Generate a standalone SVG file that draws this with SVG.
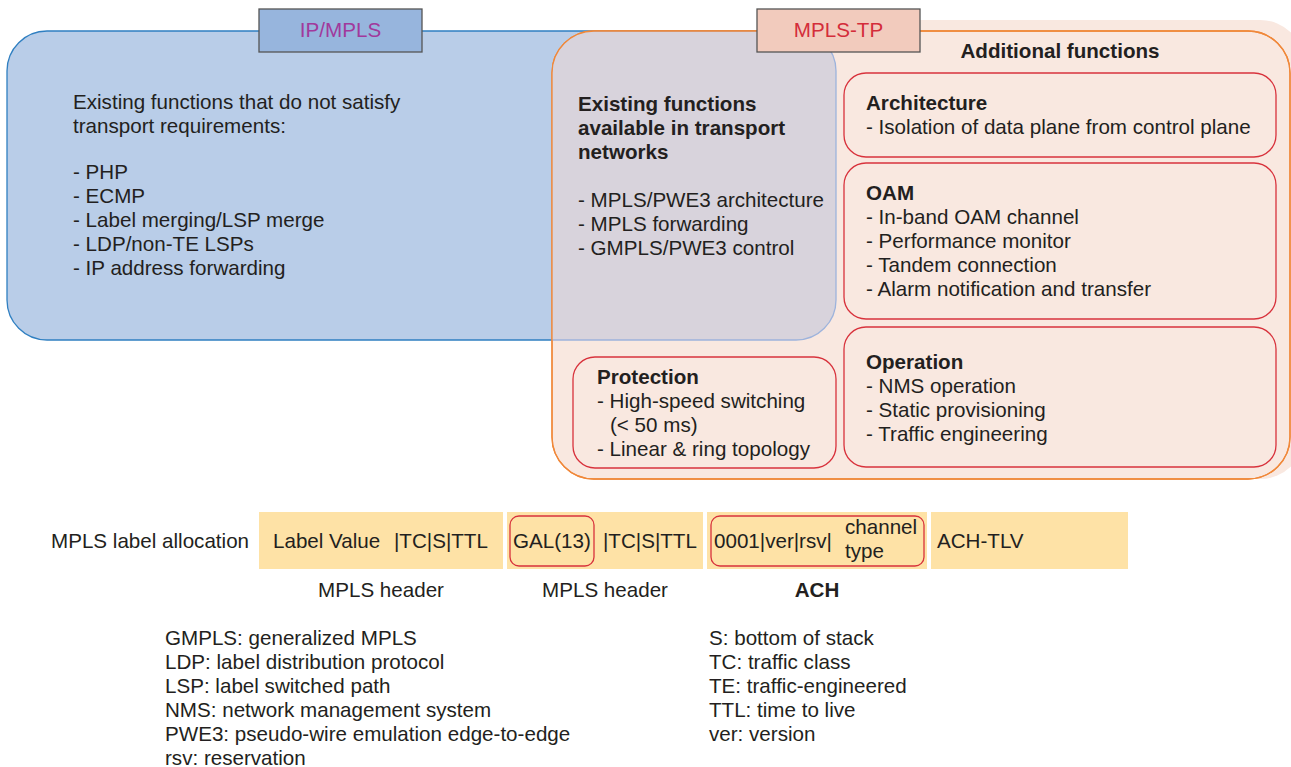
<svg xmlns="http://www.w3.org/2000/svg" width="1291" height="767" viewBox="0 0 1291 767">
<style>
text{font-family:"Liberation Sans",Arial,sans-serif;font-size:20.6px;fill:#231f20}
.b{font-weight:bold}
.box{fill:#f9e8e0;stroke:#d8323c;stroke-width:1.3}
.yel{fill:#fee2a6}
.red{fill:none;stroke:#d8323c;stroke-width:1.3}
.lab{stroke:#555;stroke-width:1.3}
.m{text-anchor:middle}
</style>
<defs>
<clipPath id="clipOr"><rect x="552" y="31" width="738" height="448" rx="42"/></clipPath>
</defs>
<g id="regions">
<rect x="760" y="20" width="545" height="459" rx="45" fill="#f9e8e0"/>
<rect id="ipmpls-region" x="7" y="31" width="829" height="309" rx="40" fill="#b9cde8" stroke="#2f7fc1" stroke-width="1.3"/>
<rect id="mplstp-region" x="552" y="31" width="738" height="448" rx="42" fill="#f9e8e0" stroke="#f0883a" stroke-width="1.3"/>
<rect x="7" y="31" width="829" height="309" rx="40" fill="#d8d3dc" stroke="#9db3dc" stroke-width="1.3" clip-path="url(#clipOr)"/>
<rect x="552" y="31" width="738" height="448" rx="42" fill="none" stroke="#f0883a" stroke-width="1.3"/>
</g>
<g id="label-ipmpls">
<rect class="lab" x="259" y="9" width="163" height="43" fill="#97b5dd"/>
<text class="m" x="340.5" y="37" style="fill:#a1399c">IP/MPLS</text>
</g>
<g id="label-mplstp">
<rect class="lab" x="757" y="9" width="163" height="43" fill="#f2cbbd"/>
<text class="m" x="838.5" y="37" style="fill:#d42d3a">MPLS-TP</text>
</g>
<g id="ipmpls-text">
<text x="73" y="109">Existing functions that do not satisfy</text>
<text x="73" y="133">transport requirements:</text>
<text x="73" y="179">- PHP</text>
<text x="73" y="203">- ECMP</text>
<text x="73" y="227">- Label merging/LSP merge</text>
<text x="73" y="251">- LDP/non-TE LSPs</text>
<text x="73" y="275">- IP address forwarding</text>
</g>
<g id="existing-text">
<text class="b" x="578" y="111">Existing functions</text>
<text class="b" x="578" y="135">available in transport</text>
<text class="b" x="578" y="159">networks</text>
<text x="578" y="207">- MPLS/PWE3 architecture</text>
<text x="578" y="231">- MPLS forwarding</text>
<text x="578" y="255">- GMPLS/PWE3 control</text>
</g>
<text class="b m" x="1060" y="58">Additional functions</text>
<g id="architecture">
<rect class="box" x="844" y="73" width="432" height="84" rx="22"/>
<text class="b" x="866" y="110">Architecture</text>
<text x="866" y="134">- Isolation of data plane from control plane</text>
</g>
<g id="oam">
<rect class="box" x="844" y="163" width="432" height="156" rx="22"/>
<text class="b" x="866" y="200">OAM</text>
<text x="866" y="224">- In-band OAM channel</text>
<text x="866" y="248">- Performance monitor</text>
<text x="866" y="272">- Tandem connection</text>
<text x="866" y="296">- Alarm notification and transfer</text>
</g>
<g id="operation">
<rect class="box" x="844" y="327" width="432" height="140" rx="22"/>
<text class="b" x="866" y="369">Operation</text>
<text x="866" y="393">- NMS operation</text>
<text x="866" y="417">- Static provisioning</text>
<text x="866" y="441">- Traffic engineering</text>
</g>
<g id="protection">
<rect class="box" x="573" y="357" width="263" height="111" rx="22"/>
<text class="b" x="597" y="384">Protection</text>
<text x="597" y="408">- High-speed switching</text>
<text x="610" y="432">(&lt; 50 ms)</text>
<text x="597" y="456">- Linear &amp; ring topology</text>
</g>
<g id="label-allocation">
<text x="51" y="548">MPLS label allocation</text>
<rect class="yel" x="259" y="512" width="244" height="57"/>
<rect class="yel" x="507" y="512" width="196" height="57"/>
<rect class="yel" x="707" y="512" width="220" height="57"/>
<rect class="yel" x="931" y="512" width="197" height="57"/>
<rect class="red" x="510" y="516" width="84" height="50" rx="9"/>
<rect class="red" x="711" y="516" width="213" height="50" rx="9"/>
<text x="273" y="548">Label Value</text>
<text x="394" y="548">|TC|S|TTL</text>
<text x="513" y="548">GAL(13)</text>
<text x="603" y="548">|TC|S|TTL</text>
<text x="714" y="548">0001|ver|rsv|</text>
<text x="845" y="534">channel</text>
<text x="845" y="558">type</text>
<text x="937" y="548">ACH-TLV</text>
<text class="m" x="381" y="597">MPLS header</text>
<text class="m" x="605" y="597">MPLS header</text>
<text class="b m" x="817" y="597">ACH</text>
</g>
<g id="legend">
<text x="165" y="645">GMPLS: generalized MPLS</text>
<text x="165" y="669">LDP: label distribution protocol</text>
<text x="165" y="693">LSP: label switched path</text>
<text x="165" y="717">NMS: network management system</text>
<text x="165" y="741">PWE3: pseudo-wire emulation edge-to-edge</text>
<text x="165" y="765">rsv: reservation</text>
<text x="709" y="645">S: bottom of stack</text>
<text x="709" y="669">TC: traffic class</text>
<text x="709" y="693">TE: traffic-engineered</text>
<text x="709" y="717">TTL: time to live</text>
<text x="709" y="741">ver: version</text>
</g>
</svg>
